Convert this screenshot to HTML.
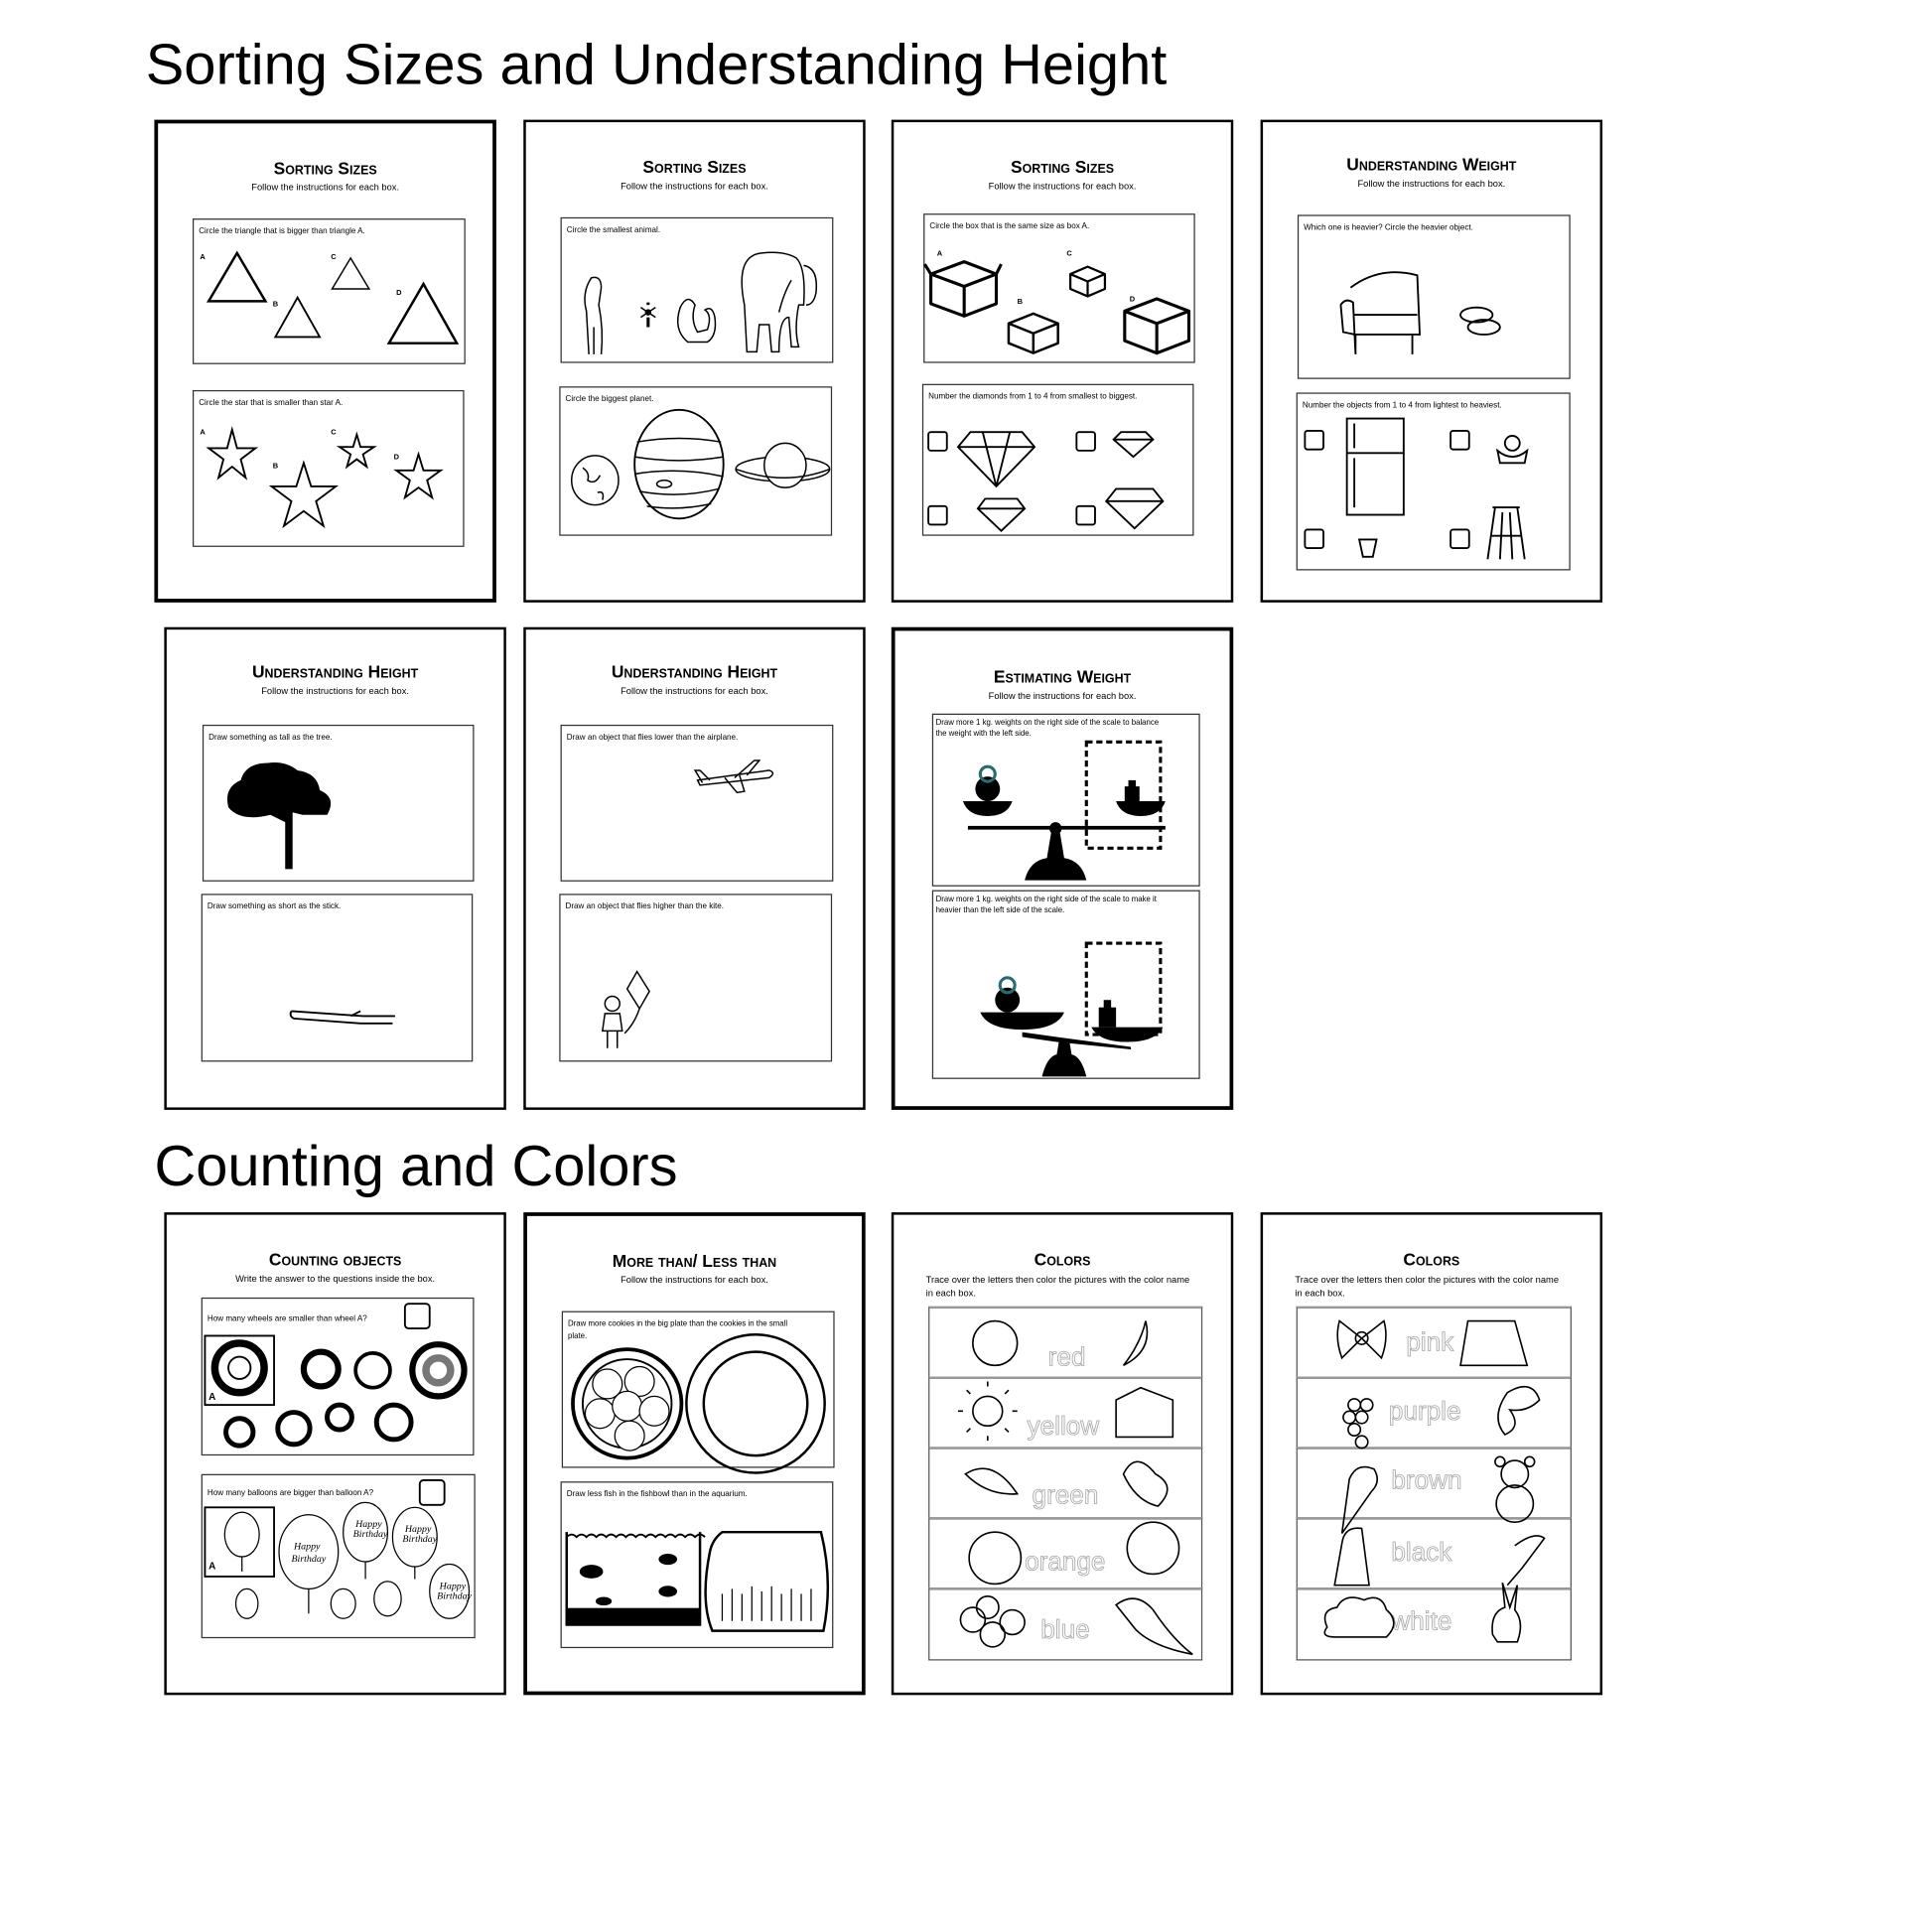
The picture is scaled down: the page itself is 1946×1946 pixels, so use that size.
<!DOCTYPE html>
<html><head><meta charset="utf-8"><style>
*{margin:0;padding:0;box-sizing:border-box}
html,body{width:1946px;height:1946px;background:#fff;overflow:hidden}
#w{position:absolute;left:0;top:0;width:1565px;height:1565px;transform:scale(1.2435);transform-origin:0 0;font-family:"Liberation Sans",sans-serif;color:#000}
.t{position:absolute;font-size:46.5px;font-family:"Liberation Sans Narrow","Liberation Sans",sans-serif;white-space:nowrap;line-height:1}
.p{position:absolute;width:277px;height:391px;border:2px solid #000}
.p.k{border-width:3px}
.h{position:absolute;left:0;right:0;text-align:center;font-weight:bold;font-size:14px;font-variant:small-caps;white-space:nowrap}
.s{position:absolute;left:0;right:0;text-align:center;font-size:7.5px;white-space:nowrap}
.s2{position:absolute;left:26px;right:26px;font-size:7.5px;line-height:11px}
.b{position:absolute;border:1px solid #333}
.l{position:absolute;left:4px;top:5px;font-size:6.5px;white-space:nowrap;line-height:9px}
svg{position:absolute;left:0;top:0;overflow:visible}
.st{position:absolute;border:1px solid #555;border-top:2px solid #999}
</style></head><body><div id="w">

<div class="t" style="left:118px;top:29px">Sorting Sizes and Understanding Height</div>
<div class="t" style="left:125px;top:921px">Counting and Colors</div>

<!-- Page 1 -->
<div class="p k" style="left:125px;top:97px">
<div class="h" style="top:28px">Sorting Sizes</div><div class="s" style="top:47px">Follow the instructions for each box.</div>
<div class="b" style="left:28px;top:77px;width:221px;height:118px"><div class="l">Circle the triangle that is bigger than triangle A.</div>
<svg width="221" height="118" fill="none" stroke="#000" stroke-width="2"><text x="5" y="32" font-size="6" font-weight="bold" fill="#000" stroke="none">A</text><polygon points="12,66 35,27 58,66"/><text x="64" y="70" font-size="6" font-weight="bold" fill="#000" stroke="none">B</text><polygon points="66,95 84,63 102,95" stroke-width="1.5"/><text x="111" y="32" font-size="6" font-weight="bold" fill="#000" stroke="none">C</text><polygon points="112,56 127,31 142,56" stroke-width="1.2"/><text x="164" y="61" font-size="6" font-weight="bold" fill="#000" stroke="none">D</text><polygon points="158,100 186,52 213,100"/></svg></div>
<div class="b" style="left:28px;top:216px;width:220px;height:127px"><div class="l">Circle the star that is smaller than star A.</div>
<svg width="220" height="127" fill="none" stroke="#000" stroke-width="1.5"><text x="5" y="35" font-size="6" font-weight="bold" fill="#000" stroke="none">A</text><polygon points="31,31 35,46 50,46 38,55 42,70 31,61 20,70 24,55 12,46 27,46"/><text x="64" y="62" font-size="6" font-weight="bold" fill="#000" stroke="none">B</text><polygon points="89,58 95,77 115,77 99,89 105,109 89,97 73,109 79,89 63,77 83,77"/><text x="111" y="35" font-size="6" font-weight="bold" fill="#000" stroke="none">C</text><polygon points="132,35 135,45 146,45 137,51 140,61 132,55 124,61 127,51 118,45 129,45"/><text x="162" y="55" font-size="6" font-weight="bold" fill="#000" stroke="none">D</text><polygon points="182,51 186,64 200,64 189,72 193,86 182,78 171,86 175,72 164,64 178,64"/></svg></div>
</div>

<!-- Page 2 -->
<div class="p" style="left:424px;top:97px">
<div class="h" style="top:28px">Sorting Sizes</div><div class="s" style="top:47px">Follow the instructions for each box.</div>
<div class="b" style="left:28px;top:77px;width:221px;height:118px"><div class="l">Circle the smallest animal.</div>
<svg width="221" height="118" fill="none" stroke="#000" stroke-width="1.2"><path d="M22,110 L20,75 Q16,60 24,48 Q32,46 32,56 L30,70 Q34,90 32,110 M26,110 L26,88"/><path d="M70,80 v8 M70,70 v-2" stroke-width="2.5"/><circle cx="70" cy="76" r="2" fill="#000"/><path d="M64,72 l12,8 M64,80 l12,-8"/><path d="M102,100 Q90,90 96,72 Q102,60 108,70 Q104,82 110,92 L118,90 Q122,78 116,74 Q122,70 124,80 Q126,95 118,100 Z"/><path d="M150,108 L148,70 Q140,30 162,28 Q180,26 190,32 Q198,40 196,70 L192,70 Q188,90 192,104 L186,104 L184,80 Q176,80 176,108 L170,108 L168,86 L160,86 L158,108 Z"/><path d="M186,50 Q180,60 176,76 M196,38 Q208,40 206,60 Q204,70 198,70"/></svg></div>
<div class="b" style="left:27px;top:214px;width:221px;height:121px"><div class="l">Circle the biggest planet.</div>
<svg width="221" height="121" fill="none" stroke="#000" stroke-width="1.2"><ellipse cx="28" cy="75" rx="19" ry="20"/><path d="M18,65 q6,4 4,10 q6,4 10,-4 M30,85 q6,-2 4,6"/><ellipse cx="96" cy="62" rx="36" ry="44" stroke-width="1.5"/><path d="M62,44 q34,-6 68,0 M60,56 q36,6 72,0 M60,70 q36,-6 72,2 M64,84 q32,6 64,-2 M70,96 q26,4 52,-2"/><ellipse cx="84" cy="78" rx="6" ry="3"/><ellipse cx="180" cy="66" rx="38" ry="10"/><ellipse cx="182" cy="63" rx="17" ry="18" fill="#fff"/><path d="M142,66 q40,14 76,0"/></svg></div>
</div>

<!-- Page 3 -->
<div class="p" style="left:722px;top:97px">
<div class="h" style="top:28px">Sorting Sizes</div><div class="s" style="top:47px">Follow the instructions for each box.</div>
<div class="b" style="left:24px;top:74px;width:220px;height:121px"><div class="l">Circle the box that is the same size as box A.</div>
<svg width="220" height="121" fill="none" stroke="#000" stroke-width="2.5" stroke-linejoin="round"><text x="10" y="33" font-size="6" font-weight="bold" fill="#000" stroke="none">A</text><path d="M5,48 L32,38 L58,48 L58,72 L32,82 L5,72 Z M5,48 L32,58 L58,48 M32,58 V82 M5,48 L0,40 M58,48 L62,40"/><text x="75" y="72" font-size="6" font-weight="bold" fill="#000" stroke="none">B</text><path d="M68,88 L88,80 L108,88 L108,104 L88,112 L68,104 Z M68,88 L88,96 L108,88 M88,96 V112" stroke-width="2"/><text x="115" y="33" font-size="6" font-weight="bold" fill="#000" stroke="none">C</text><path d="M118,48 L132,42 L146,48 L146,60 L132,66 L118,60 Z M118,48 L132,54 L146,48 M132,54 V66" stroke-width="1.8"/><text x="166" y="70" font-size="6" font-weight="bold" fill="#000" stroke="none">D</text><path d="M162,78 L188,68 L214,78 L214,102 L188,112 L162,102 Z M162,78 L188,88 L214,78 M188,88 V112"/></svg></div>
<div class="b" style="left:23px;top:212px;width:220px;height:123px"><div class="l">Number the diamonds from 1 to 4 from smallest to biggest.</div>
<svg width="220" height="123" fill="none" stroke="#000" stroke-width="1.5"><rect x="4" y="38" width="15" height="15" rx="2"/><rect x="4" y="98" width="15" height="15" rx="2"/><rect x="124" y="38" width="15" height="15" rx="2"/><rect x="124" y="98" width="15" height="15" rx="2"/><path d="M38,38 L80,38 L90,50 L59,82 L28,50 Z M28,50 H90 M48,38 L59,82 L70,38"/><path d="M160,38 L180,38 L186,44 L170,58 L154,44 Z M154,44 H186"/><path d="M50,92 L76,92 L82,100 L63,118 L44,100 Z M44,100 H82"/><path d="M156,84 L186,84 L194,94 L171,116 L148,94 Z M148,94 H194"/></svg></div>
</div>

<!-- Page 4 -->
<div class="p" style="left:1021px;top:97px">
<div class="h" style="top:26px">Understanding Weight</div><div class="s" style="top:45px">Follow the instructions for each box.</div>
<div class="b" style="left:28px;top:75px;width:221px;height:133px"><div class="l">Which one is heavier? Circle the heavier object.</div>
<svg width="221" height="133" fill="none" stroke="#000" stroke-width="1.5"><path d="M42,58 Q66,40 96,48 L98,96 L92,96 L92,112 M46,112 L46,96 L36,94 L34,72 Q38,66 44,70 Z M44,96 L98,96 M44,80 L96,80"/><ellipse cx="144" cy="80" rx="13" ry="6"/><ellipse cx="150" cy="90" rx="13" ry="6"/></svg></div>
<div class="b" style="left:27px;top:219px;width:222px;height:144px"><div class="l">Number the objects from 1 to 4 from lightest to heaviest.</div>
<svg width="222" height="144" fill="none" stroke="#000" stroke-width="1.5"><rect x="6" y="30" width="15" height="15" rx="2"/><rect x="6" y="110" width="15" height="15" rx="2"/><rect x="124" y="30" width="15" height="15" rx="2"/><rect x="124" y="110" width="15" height="15" rx="2"/><rect x="40" y="20" width="46" height="78"/><path d="M40,48 H86 M46,24 V44 M46,52 V92"/><path d="M162,46 Q174,56 186,46 L184,56 H164 Z"/><circle cx="174" cy="40" r="6"/><path d="M50,118 L53,132 H61 L64,118 Z"/><path d="M158,92 H180 M160,92 L154,134 M178,92 L184,134 M166,96 L164,134 M172,96 L174,134 M157,115 H182"/></svg></div>
</div>

<!-- Page 5 -->
<div class="p" style="left:133px;top:508px">
<div class="h" style="top:26px">Understanding Height</div><div class="s" style="top:45px">Follow the instructions for each box.</div>
<div class="b" style="left:29px;top:77px;width:220px;height:127px"><div class="l">Draw something as tall as the tree.</div>
<svg width="220" height="127"><path d="M20,66 Q16,50 30,44 Q34,30 52,30 Q66,28 76,36 Q92,38 94,52 Q108,58 100,72 L80,72 L72,70 L72,116 L66,116 L66,78 L54,72 Q30,78 20,66 Z" fill="#000"/></svg></div>
<div class="b" style="left:28px;top:214px;width:220px;height:136px"><div class="l">Draw something as short as the stick.</div>
<svg width="220" height="136" fill="none" stroke="#000" stroke-width="1.5"><path d="M72,94 L130,98 L156,98 M72,94 Q70,98 74,100 L128,104 L154,104 M120,98 L128,94"/></svg></div>
</div>

<!-- Page 6 -->
<div class="p" style="left:424px;top:508px">
<div class="h" style="top:26px">Understanding Height</div><div class="s" style="top:45px">Follow the instructions for each box.</div>
<div class="b" style="left:28px;top:77px;width:221px;height:127px"><div class="l">Draw an object that flies lower than the airplane.</div>
<svg width="221" height="127" fill="none" stroke="#000" stroke-width="1.2"><path d="M110,44 L168,36 Q174,38 168,42 L112,48 Z M132,42 L142,54 L148,53 L144,40 M150,40 L160,28 L156,28 L140,42 M114,46 L108,36 L112,36 L120,44"/></svg></div>
<div class="b" style="left:27px;top:214px;width:221px;height:136px"><div class="l">Draw an object that flies higher than the kite.</div>
<svg width="221" height="136" fill="none" stroke="#000" stroke-width="1.2"><path d="M62,62 L72,78 L64,92 L54,76 Z M64,92 Q60,104 52,112"/><circle cx="42" cy="88" r="6"/><path d="M36,96 H48 L50,110 H34 Z M38,110 V124 M46,110 V124"/></svg></div>
</div>

<!-- Page 7 -->
<div class="p k" style="left:722px;top:508px">
<div class="h" style="top:29px">Estimating Weight</div><div class="s" style="top:48px">Follow the instructions for each box.</div>
<div class="b" style="left:30px;top:67px;width:217px;height:140px"><div class="l" style="font-size:6.3px;left:2px;top:2px">Draw more 1 kg. weights on the right side of the scale to balance<br>the weight with the left side.</div>
<svg width="217" height="140"><path d="M124,22 H184 V108 H124 Z" fill="none" stroke="#000" stroke-width="2.5" stroke-dasharray="5,3"/><path d="M24,70 H64 Q60,82 44,82 Q28,82 24,70 Z M148,70 H188 Q184,82 168,82 Q152,82 148,70 Z" fill="#000"/><rect x="28" y="90" width="160" height="3" fill="#000"/><path d="M74,134 Q78,118 92,116 L96,92 L102,92 L106,116 Q120,118 124,134 Z" fill="#000"/><circle cx="99" cy="92" r="5" fill="#000"/><circle cx="44" cy="60" r="10" fill="#000"/><circle cx="44" cy="48" r="6" fill="none" stroke="#2a6a70" stroke-width="2.5"/><rect x="155" y="58" width="12" height="13" fill="#000"/><rect x="158" y="53" width="6" height="6" fill="#000"/></svg></div>
<div class="b" style="left:30px;top:210px;width:217px;height:153px"><div class="l" style="font-size:6.3px;left:2px;top:2px">Draw more 1 kg. weights on the right side of the scale to make it<br>heavier than the left side of the scale.</div>
<svg width="217" height="153"><path d="M124,42 H184 V116 H124 Z" fill="none" stroke="#000" stroke-width="2.5" stroke-dasharray="5,3"/><path d="M38,98 H106 Q100,112 72,112 Q44,112 38,98 Z M128,110 H186 Q180,122 157,122 Q134,122 128,110 Z" fill="#000"/><path d="M72,114 L100,118 L160,126 L160,128 L100,122 L72,118 Z" fill="#000"/><path d="M88,150 Q92,134 100,132 L102,120 L110,120 L112,132 Q120,134 124,150 Z" fill="#000"/><circle cx="60" cy="88" r="10" fill="#000"/><circle cx="60" cy="76" r="6" fill="none" stroke="#2a6a70" stroke-width="2.5"/><rect x="134" y="94" width="14" height="16" fill="#000"/><rect x="138" y="88" width="6" height="7" fill="#000"/></svg></div>
</div>

<!-- Page 8 -->
<div class="p" style="left:133px;top:982px">
<div class="h" style="top:28px">Counting objects</div><div class="s" style="top:47px">Write the answer to the questions inside the box.</div>
<div class="b" style="left:28px;top:67px;width:221px;height:128px"><div class="l" style="top:12px">How many wheels are smaller than wheel A?</div>
<svg width="221" height="128" fill="none" stroke="#000" stroke-width="1.5"><rect x="164" y="4" width="20" height="20" rx="3"/><rect x="2" y="30" width="56" height="56"/><text x="5" y="82" font-size="8" font-weight="bold" fill="#000" stroke="none">A</text><circle cx="30" cy="56" r="20" stroke-width="6"/><circle cx="30" cy="56" r="9"/><circle cx="96" cy="57" r="14" stroke-width="5"/><circle cx="138" cy="58" r="14" stroke-width="3"/><circle cx="191" cy="58" r="21" stroke-width="5"/><circle cx="191" cy="58" r="10" stroke="#777" stroke-width="6"/><circle cx="30" cy="108" r="11" stroke-width="4"/><circle cx="74" cy="105" r="13" stroke-width="4"/><circle cx="111" cy="96" r="10" stroke-width="4"/><circle cx="155" cy="100" r="14" stroke-width="4"/></svg></div>
<div class="b" style="left:28px;top:210px;width:222px;height:133px"><div class="l" style="top:10px">How many balloons are bigger than balloon A?</div>
<svg width="222" height="133" fill="none" stroke="#000" stroke-width="1"><rect x="176" y="4" width="20" height="20" rx="3" stroke-width="1.5"/><rect x="2" y="26" width="56" height="56" stroke-width="1.5"/><text x="5" y="76" font-size="8" font-weight="bold" fill="#000" stroke="none">A</text><ellipse cx="32" cy="48" rx="14" ry="18"/><path d="M32,66 v12"/><ellipse cx="86" cy="62" rx="24" ry="30"/><path d="M86,92 v20"/><ellipse cx="132" cy="46" rx="18" ry="24"/><path d="M132,70 v14"/><ellipse cx="172" cy="50" rx="18" ry="24"/><path d="M172,74 v10"/><ellipse cx="200" cy="94" rx="16" ry="22"/><ellipse cx="36" cy="104" rx="9" ry="12"/><ellipse cx="114" cy="104" rx="10" ry="12"/><ellipse cx="150" cy="100" rx="11" ry="14"/><g font-family="Liberation Serif" font-style="italic" font-size="8" fill="#000" stroke="none"><text x="74" y="60">Happy</text><text x="72" y="70">Birthday</text><text x="124" y="42">Happy</text><text x="122" y="50">Birthday</text><text x="164" y="46">Happy</text><text x="162" y="54">Birthday</text><text x="192" y="92">Happy</text><text x="190" y="100">Birthday</text></g></svg></div>
</div>

<!-- Page 9 -->
<div class="p k" style="left:424px;top:982px">
<div class="h" style="top:28px">More than/ Less than</div><div class="s" style="top:47px">Follow the instructions for each box.</div>
<div class="b" style="left:28px;top:77px;width:221px;height:127px"><div class="l" style="font-size:6.3px;line-height:10px">Draw more cookies in the big plate than the cookies in the small<br>plate.</div>
<svg width="221" height="127" fill="none" stroke="#000"><circle cx="52" cy="74" r="44" stroke-width="3"/><circle cx="52" cy="74" r="36" stroke-width="1.5"/><g fill="#fff" stroke-width="1"><circle cx="36" cy="58" r="12"/><circle cx="62" cy="56" r="12"/><circle cx="30" cy="82" r="12"/><circle cx="52" cy="76" r="12"/><circle cx="74" cy="80" r="12"/><circle cx="54" cy="100" r="12"/></g><circle cx="156" cy="74" r="56" stroke-width="2"/><circle cx="156" cy="74" r="42" stroke-width="2"/></svg></div>
<div class="b" style="left:27px;top:215px;width:221px;height:135px"><div class="l">Draw less fish in the fishbowl than in the aquarium.</div>
<svg width="221" height="135" fill="none" stroke="#000"><path d="M4,40 V115 H112 V40" stroke-width="2"/><path d="M4,44 q4,-4 8,0 q4,-4 8,0 q4,-4 8,0 q4,-4 8,0 q4,-4 8,0 q4,-4 8,0 q4,-4 8,0 q4,-4 8,0 q4,-4 8,0 q4,-4 8,0 q4,-4 8,0 q4,-4 8,0 q4,-4 8,0 q4,-4 8,0" stroke-width="1.5"/><rect x="4" y="102" width="108" height="13" fill="#000"/><g fill="#000"><ellipse cx="24" cy="72" rx="9" ry="5"/><ellipse cx="86" cy="62" rx="7" ry="4"/><ellipse cx="86" cy="88" rx="7" ry="4"/><ellipse cx="34" cy="96" rx="6" ry="3"/></g><path d="M122,120 Q112,96 120,56 Q122,46 130,40 H210 Q220,80 212,120 Z" stroke-width="2"/><path d="M130,112 V90 M138,112 V86 M146,112 V90 M154,112 V84 M162,112 V88 M170,112 V84 M178,112 V90 M186,112 V86 M194,112 V90 M202,112 V86"/></svg></div>
</div>

<!-- Page 10 -->
<div class="p" style="left:722px;top:982px">
<div class="h" style="top:28px">Colors</div><div class="s2" style="top:47px">Trace over the letters then color the pictures with the color name in each box.</div>
<div class="st" style="left:28px;top:74px;width:222px;height:58px"></div>
<div class="st" style="left:28px;top:131px;width:222px;height:58px"></div>
<div class="st" style="left:28px;top:188px;width:222px;height:58px"></div>
<div class="st" style="left:28px;top:245px;width:222px;height:58px"></div>
<div class="st" style="left:28px;top:302px;width:222px;height:59px"></div>
<svg width="277" height="391" fill="none" stroke="#000" stroke-width="1.3"><g font-size="21" fill="#fff" stroke="#aaa" stroke-width="0.7"><text x="125" y="122">red</text><text x="108" y="178">yellow</text><text x="112" y="234">green</text><text x="106" y="288">orange</text><text x="119" y="343">blue</text></g><circle cx="82" cy="104" r="18"/><path d="M204,86 Q210,110 186,122 Q200,104 204,86 Z"/><circle cx="76" cy="159" r="12"/><path d="M76,139 v-4 M76,179 v4 M56,159 h-4 M96,159 h4 M62,145 l-3,-3 M90,145 l3,-3 M62,173 l-3,3 M90,173 l3,3"/><path d="M180,150 L200,140 L226,150 V180 H180 Z"/><path d="M58,210 Q80,196 100,226 Q76,228 58,210 Z"/><path d="M186,210 Q196,190 212,210 Q230,220 214,236 Q196,232 186,210 Z"/><circle cx="82" cy="278" r="21"/><circle cx="210" cy="270" r="21"/><circle cx="64" cy="328" r="10"/><circle cx="80" cy="340" r="10"/><circle cx="96" cy="330" r="10"/><circle cx="76" cy="318" r="9"/><path d="M180,316 Q196,304 210,320 Q226,344 242,356 Q210,350 196,336 Z"/></svg>
</div>

<!-- Page 11 -->
<div class="p" style="left:1021px;top:982px">
<div class="h" style="top:28px">Colors</div><div class="s2" style="top:47px">Trace over the letters then color the pictures with the color name in each box.</div>
<div class="st" style="left:27px;top:74px;width:223px;height:58px"></div>
<div class="st" style="left:27px;top:131px;width:223px;height:58px"></div>
<div class="st" style="left:27px;top:188px;width:223px;height:58px"></div>
<div class="st" style="left:27px;top:245px;width:223px;height:58px"></div>
<div class="st" style="left:27px;top:302px;width:223px;height:59px"></div>
<svg width="277" height="391" fill="none" stroke="#000" stroke-width="1.3"><g font-size="21" fill="#fff" stroke="#aaa" stroke-width="0.7"><text x="116" y="110">pink</text><text x="102" y="166">purple</text><text x="104" y="222">brown</text><text x="104" y="280">black</text><text x="104" y="336">white</text></g><path d="M80,100 L62,86 Q58,100 64,116 Z M80,100 L98,86 Q102,100 96,116 Z"/><circle cx="80" cy="100" r="5"/><path d="M166,86 H204 L214,122 H160 Z"/><circle cx="74" cy="154" r="5"/><circle cx="84" cy="154" r="5"/><circle cx="70" cy="164" r="5"/><circle cx="80" cy="164" r="5"/><circle cx="74" cy="174" r="5"/><circle cx="80" cy="184" r="5"/><path d="M198,144 Q218,132 224,150 Q214,160 200,158 Q210,172 196,178 Q184,164 198,144 Z"/><path d="M70,214 Q76,200 90,206 Q96,216 88,224 L64,258 Z"/><circle cx="204" cy="210" r="11"/><circle cx="204" cy="234" r="15"/><circle cx="192" cy="200" r="4"/><circle cx="216" cy="200" r="4"/><path d="M64,266 Q66,252 80,254 L86,300 H58 Z"/><path d="M204,268 Q220,256 228,262 L210,286 L198,300"/><path d="M52,334 Q46,320 60,318 Q66,306 82,312 Q96,306 100,320 Q112,330 100,342 H58 Q46,342 52,334 Z"/><path d="M186,340 Q184,322 196,318 L194,298 L200,318 L206,300 L204,320 Q212,330 206,346 H190 Z"/></svg>
</div>

</div></body></html>
